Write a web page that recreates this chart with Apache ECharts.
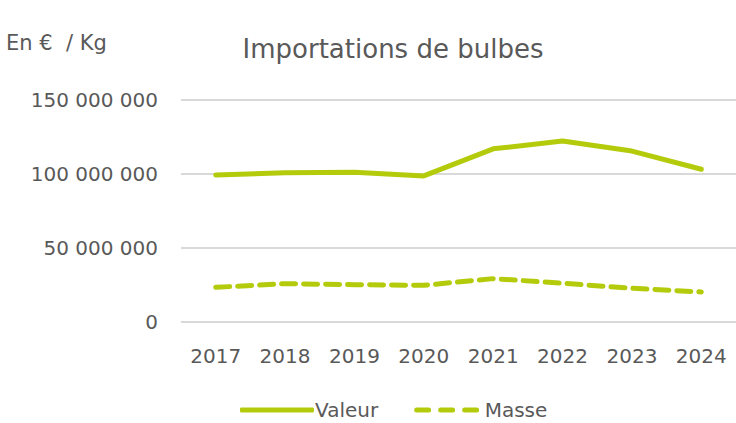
<!DOCTYPE html>
<html>
<head>
<meta charset="utf-8">
<script src="https://cdn.jsdelivr.net/npm/echarts@6/dist/echarts.min.js"></script>
<style>
  html, body { margin: 0; padding: 0; background: #fff; }
  #chart { width: 736px; height: 423px; }
</style>
</head>
<body>
<div id="chart"></div>
<script>
var years = ['2017', '2018', '2019', '2020', '2021', '2022', '2023', '2024'];
var valeur = [99300000, 100800000, 101200000, 98700000, 117000000, 122300000, 115500000, 103200000];
var masse = [23400000, 25900000, 25200000, 24800000, 29300000, 26200000, 22800000, 20300000];

var green = '#b3cb0b';
var grey = '#595959';
var font = 'DejaVu Sans';

function fmt(v){
    return String(v).replace(/\B(?=(\d{3})+(?!\d))/g, ' ');
}

var myChart = echarts.init(document.getElementById('chart'), null, {renderer: 'svg'});
var option = {
    textStyle: { fontFamily: font },
    title: [
        {
            text: 'Importations de bulbes',
            left: 388, top: 31, textAlign: 'center',
            textStyle: { fontFamily: font, fontSize: 26, fontWeight: 'normal', color: grey }
        },
        {
            text: 'En €  / Kg',
            left: 1, top: 27,
            textStyle: { fontFamily: font, fontSize: 21, fontWeight: 'normal', color: grey }
        }
    ],
    legend: {
        top: 400, left: 240, padding: 0,
        itemWidth: 74, itemHeight: 5, itemGap: 36,
        textStyle: { fontFamily: font, fontSize: 20, color: grey, padding: [0, 0, 0, -4] },
        data: [
            { name: 'Valeur', icon: 'roundRect' },
            { name: 'Masse', icon: 'path://M2,0h12a2,2 0 0 1 0,5h-12a2,2 0 0 1 0,-5z M26,0h12a2,2 0 0 1 0,5h-12a2,2 0 0 1 0,-5z M50,0h12a2,2 0 0 1 0,5h-12a2,2 0 0 1 0,-5z' }
        ]
    },
    grid: { left: 181, right: 0, top: 100, bottom: 101 },
    xAxis: {
        type: 'category',
        data: years,
        boundaryGap: true,
        axisLine: { show: false },
        axisTick: { show: false },
        axisLabel: { fontFamily: font, fontSize: 20, color: grey, margin: 24 }
    },
    yAxis: {
        type: 'value',
        min: 0, max: 150000000, interval: 50000000,
        axisLabel: {
            fontFamily: font, fontSize: 20, color: grey, margin: 23,
            formatter: fmt
        },
        splitLine: { lineStyle: { color: '#d9d9d9', width: 2 } }
    },
    series: [
        {
            name: 'Valeur', type: 'line', data: valeur,
            symbol: 'none',
            itemStyle: { color: green },
            lineStyle: { color: green, width: 5, cap: 'round' }
        },
        {
            name: 'Masse', type: 'line', data: masse,
            symbol: 'none',
            itemStyle: { color: green },
            lineStyle: { color: green, width: 5, type: [14, 8], cap: 'round' }
        }
    ]
};
myChart.setOption(option);
</script>
</body>
</html>
